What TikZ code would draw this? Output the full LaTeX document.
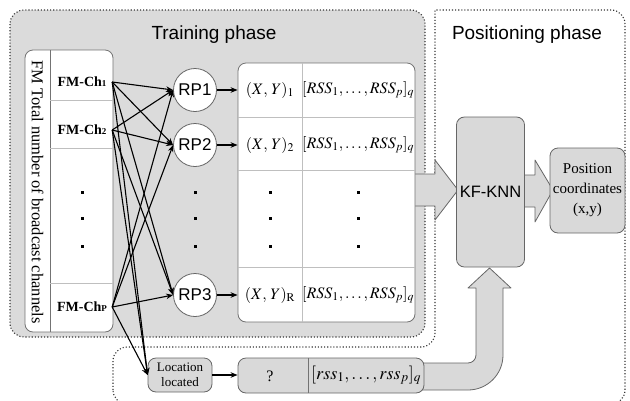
\documentclass[tikz,border=0pt]{standalone}
\usepackage{mathptmx}
\usepackage{fontspec}
\setmainfont{Liberation Serif}
\setsansfont{Liberation Sans}
\usetikzlibrary{arrows.meta}

\newcommand{\fmch}[1]{FM-Ch{\fontsize{9}{9}\selectfont #1}}

\begin{document}
\begin{tikzpicture}[
    x=1pt, y=-1pt,
    phase/.style={draw=black!80, dotted, line width=1.1pt, rounded corners=14pt},
    title/.style={font=\sffamily\fontsize{19}{21}\selectfont},
    frame/.style={draw=black!55, fill=white, rounded corners=8pt, line width=0.8pt},
    rowline/.style={draw=black!25, line width=0.8pt},
    chan/.style={minimum width=60pt, inner sep=0pt, font=\bfseries\fontsize{14}{16}\selectfont},
    rp/.style={circle, draw=black!60, fill=white, minimum size=43pt, inner sep=0pt, line width=0.8pt, font=\sffamily\fontsize{17}{19}\selectfont},
    cell/.style={inner sep=0pt, font=\fontsize{16}{18}\selectfont},
    greybox/.style={draw=black!60, fill=black!15, rounded corners=8pt, line width=0.8pt, align=center},
    blockarrow/.style={draw=black!60, fill=black!15, line width=0.8pt, line join=round},
    link/.style={-{Stealth[length=7pt, width=5.5pt]}, line width=1.1pt},
    dot/.style={fill=black, inner sep=0pt, minimum size=3pt}
    ]
    \useasboundingbox (0,0) rectangle (630,400);

    % the two phases
    \draw[phase, fill=black!14] (10,10) rectangle (425,337);
    \draw[phase] (113,404) -- (113,347) -- (435,347) [sharp corners] -- (435,10) [rounded corners=14pt] -- (625,10) -- (625,404) -- cycle;
    \node (training) [title] at (214,35) {Training phase};
    \node (positioning) [title] at (527,35) {Positioning phase};

    % broadcast channels
    \node (fmbox) [frame, minimum width=88pt, minimum height=282pt] at (69,191) {};
    \draw[rowline, draw=black!55] (50,50) -- (50,332);
    \foreach \y in {100,148,283}
        \draw[rowline] (50,\y) -- (113,\y);
    \node (total) [rotate=-90, font=\fontsize{16.5}{18}\selectfont] at (37.5,192) {FM Total number of broadcast channels};
    \node (chone) [chan] at (82,82) {\fmch{1}};
    \node (chtwo) [chan] at (82,130) {\fmch{2}};
    \node (chp) [chan] at (82,307) {\fmch{P}};

    % fingerprint table
    \draw[blockarrow] (405,174) -- (435,174) -- (435,160) -- (458,190) -- (435,220) -- (435,206) -- (405,206) -- cycle;
    \node (table) [frame, minimum width=177pt, minimum height=259pt] at (326.5,192.5) {};
    \draw[rowline] (302,63) -- (302,322);
    \foreach \y in {117,170,267}
        \draw[rowline] (238,\y) -- (415,\y);
    \node (xyone) [cell] at (270,90) {$(X,\,Y)_1$};
    \node (xytwo) [cell] at (270,145) {$(X,\,Y)_2$};
    \node (xyr) [cell] at (270,295) {$(X,\,Y)_{\mathrm{R}}$};
    \node (rssone) [cell] at (358,90) {$[RSS_1,\ldots,RSS_p]_q$};
    \node (rsstwo) [cell] at (358,145) {$[RSS_1,\ldots,RSS_p]_q$};
    \node (rssr) [cell] at (358,295) {$[RSS_1,\ldots,RSS_p]_q$};

    % reference points
    \node (rpone) [rp] at (195,90) {RP1};
    \node (rptwo) [rp] at (195,145) {RP2};
    \node (rpthree) [rp] at (195,295) {RP3};

    \foreach \y [count=\i] in {192,218,246} {
        \node (fmdot\i) [dot] at (82,\y) {};
        \node (rpdot\i) [dot] at (195,\y) {};
        \node (xydot\i) [dot] at (270,\y) {};
        \node (rssdot\i) [dot] at (358,\y) {};
    }

    % online part
    \draw[blockarrow] (415,363) -- (468,363) arc[start angle=90, end angle=0, radius=8] -- (476,288) -- (468,288) -- (489.5,268) -- (511,288) -- (503,288) -- (503,355) arc[start angle=0, end angle=90, radius=35] -- (415,390) -- cycle;
    \node (loc) [greybox, minimum width=64pt, minimum height=34pt, inner sep=1pt, font=\fontsize{13}{15.5}\selectfont] at (180,375) {Location\\located};
    \node (query) [greybox, minimum width=186pt, minimum height=35pt] at (331,375.5) {};
    \draw[draw=black!55, line width=0.8pt] (308,358) -- (308,393);
    \node (unknown) [cell] at (270,376) {?};
    \node (rssq) [cell, font=\fontsize{18}{20}\selectfont] at (366,375) {$[rss_1,\ldots,rss_p]_q$};

    % matching
    \draw[blockarrow] (515,175) -- (535,175) -- (535,160) -- (553,190) -- (535,222) -- (535,207) -- (515,207) -- cycle;
    \node (kfknn) [greybox, minimum width=63pt, minimum height=150pt, font=\sffamily\fontsize{16.5}{18}\selectfont] at (490.5,192) {KF-KNN};
    \node (pos) [greybox, minimum width=75pt, minimum height=85pt, inner sep=0pt, font=\fontsize{15}{20}\selectfont] at (587.5,190.5) {Position\\coordinates\\(x,y)};

    % links
    \foreach \c in {chone,chtwo,chp}
        \foreach \t in {rpone,rptwo,rpthree,loc}
            \draw[link] (\c.east) -- (\t.west);
    \draw[link] (rpone) -- (rpone -| table.west);
    \draw[link] (rptwo) -- (rptwo -| table.west);
    \draw[link] (rpthree) -- (rpthree -| table.west);
    \draw[link] (loc) -- (loc -| query.west);
\end{tikzpicture}
\end{document}
